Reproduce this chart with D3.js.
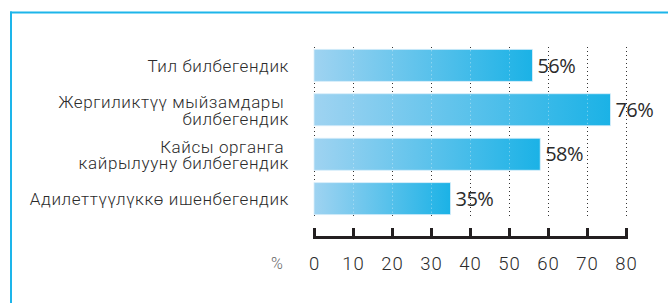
<!DOCTYPE html>
<html>
<head>
<meta charset="utf-8">
<script src="https://cdn.jsdelivr.net/npm/d3@7"></script>
<style>
  html, body { margin: 0; padding: 0; background: #fff; }
  svg { display: block; }
</style>
</head>
<body>
<svg id="chart" width="668" height="303"></svg>
<script>
const categories = [
  ["Тил билбегендик"],
  ["Жергиликтүү мыйзамдары\u00a0", "билбегендик"],
  ["Кайсы органга\u00a0", "кайрылууну билбегендик"],
  ["Адилеттүүлүккө ишенбегендик"]
];
const values = [56, 76, 58, 35];
const valueLabels = ["56%", "76%", "58%", "35%"];
const tickValues = [0, 10, 20, 30, 40, 50, 60, 70, 80];
const unitLabel = "%";

const svg = d3.select("#chart");
const W = 668, H = 303;

// frame lines
svg.append("line").attr("x1", 10).attr("x2", W).attr("y1", 12.5).attr("y2", 12.5)
  .attr("stroke", "#1db5ea").attr("stroke-width", 2);
svg.append("line").attr("x1", 11).attr("x2", 11).attr("y1", 11.5).attr("y2", H)
  .attr("stroke", "#1db5ea").attr("stroke-width", 2);

const x = d3.scaleLinear().domain([0, 80]).range([314, 626]);
const y = d3.scaleBand().domain(d3.range(categories.length))
  .range([43.1, 220.9]).paddingInner(0.28).paddingOuter(0.14);

const defs = svg.append("defs");
const grad = defs.append("linearGradient").attr("id", "barGrad")
  .attr("x1", "0").attr("x2", "1").attr("y1", "0").attr("y2", "0");
grad.append("stop").attr("offset", "0").attr("stop-color", "#9fd3f1");
grad.append("stop").attr("offset", "1").attr("stop-color", "#1bb2e6");

// gridlines behind
const gridTop = 47, gridBottom = 218;
svg.append("g").selectAll("line").data(tickValues).join("line")
  .attr("x1", d => x(d) + 0.5).attr("x2", d => x(d) + 0.5)
  .attr("y1", gridTop).attr("y2", gridBottom)
  .attr("stroke", "#333").attr("stroke-width", 1)
  .attr("stroke-dasharray", "1,3");

// bars
svg.append("g").selectAll("rect").data(values).join("rect")
  .attr("x", x(0))
  .attr("y", (d, i) => y(i))
  .attr("width", d => x(d) - x(0))
  .attr("height", y.bandwidth())
  .attr("fill", "url(#barGrad)")
  .attr("stroke", "#d8eefa").attr("stroke-width", 0.8);

// faint grid dots over bars
svg.append("g").selectAll("g").data(values).join("g")
  .each(function(v, i) {
    d3.select(this).selectAll("line").data(tickValues.filter(t => t > 0 && x(t) < x(v))).join("line")
      .attr("x1", t => x(t) + 0.5).attr("x2", t => x(t) + 0.5)
      .attr("y1", y(i) + 1).attr("y2", y(i) + y.bandwidth() - 1)
      .attr("stroke", "#ffffff").attr("stroke-opacity", 0.45)
      .attr("stroke-dasharray", "1,3");
  });

// value labels
svg.append("g").selectAll("text").data(values).join("text")
  .attr("x", d => x(d) + 5)
  .attr("y", (d, i) => y(i) + y.bandwidth() / 2)
  .attr("dy", "0.36em")
  .attr("font-family", "'Open Sans', sans-serif")
  .attr("font-size", 20)
  .attr("letter-spacing", -0.5)
  .attr("fill", "#2b2b2b")
  .text((d, i) => valueLabels[i]);

// category labels
const lineH = 16.5;
svg.append("g").selectAll("text").data(categories).join("text")
  .attr("text-anchor", "end")
  .attr("font-family", "Roboto, sans-serif")
  .attr("font-weight", 300)
  .attr("font-size", 17)
  .attr("letter-spacing", 0.6)
  .attr("fill", "#2b2b2b")
  .style("white-space", "pre")
  .each(function(lines, i) {
    const cy = y(i) + y.bandwidth() / 2 + 0.5;
    const t = d3.select(this);
    lines.forEach((ln, k) => {
      t.append("tspan")
        .attr("x", 289)
        .attr("y", cy + (k - (lines.length - 1) / 2) * lineH)
        .attr("dy", "0.36em")
        .text(ln);
    });
  });

// axis
const axisY = 237;
const axis = d3.axisBottom(x).tickValues(tickValues).tickSizeInner(-9).tickSizeOuter(-9).tickFormat(d3.format("d"));
const ag = svg.append("g").attr("transform", `translate(0,${axisY})`).call(axis);
ag.select(".domain").attr("stroke", "#231f20").attr("stroke-width", 3);
ag.selectAll(".tick line").attr("stroke", "#231f20").attr("stroke-width", 3);
ag.selectAll(".tick text")
  .attr("y", 26).attr("dy", "0.36em")
  .attr("font-family", "Roboto, sans-serif")
  .attr("font-weight", 300)
  .attr("font-size", 18.5)
  .attr("letter-spacing", 1)
  .attr("fill", "#2b2b2b");

svg.append("text")
  .attr("x", 277).attr("y", axisY + 26).attr("dy", "0.36em")
  .attr("text-anchor", "middle")
  .attr("font-family", "Roboto, sans-serif")
  .attr("font-weight", 300)
  .attr("font-size", 16)
  .attr("fill", "#666")
  .text(unitLabel);
</script>
</body>
</html>
